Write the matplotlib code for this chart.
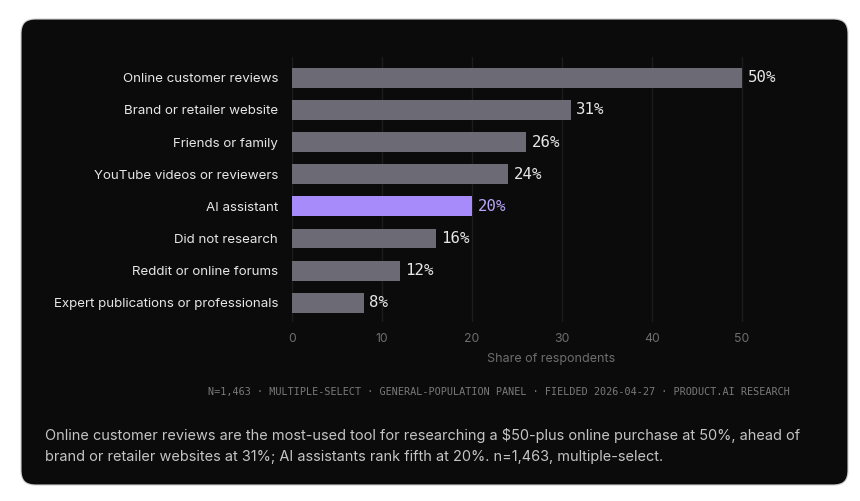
import matplotlib.pyplot as plt
from matplotlib.patches import FancyBboxPatch

# --- Data ---
categories = [
    "Online customer reviews",
    "Brand or retailer website",
    "Friends or family",
    "YouTube videos or reviewers",
    "AI assistant",
    "Did not research",
    "Reddit or online forums",
    "Expert publications or professionals",
]
shares = [50, 31, 26, 24, 20, 16, 12, 8]
highlight = "AI assistant"
x_ticks = [0, 10, 20, 30, 40, 50]

footnote = "N=1,463 · MULTIPLE-SELECT · GENERAL-POPULATION PANEL · FIELDED 2026-04-27 · PRODUCT.AI RESEARCH"
caption = ("Online customer reviews are the most-used tool for researching a $50-plus online purchase at 50%, ahead of\n"
           "brand or retailer websites at 31%; AI assistants rank fifth at 20%. n=1,463, multiple-select.")

# --- Colours ---
CARD = "#0b0b0b"
BAR = "#6c6b75"
HL = "#a78bfa"
HL_TEXT = "#b8a4f8"
LABEL = "#e6e6e6"
MUTED = "#6e6e6e"
GRID = "#1c1c1c"

W, H = 860, 501
fig = plt.figure(figsize=(W / 100, H / 100), dpi=100)
fig.patch.set_facecolor("white")

# dark rounded card (pixel coords), kept behind the axes
card = FancyBboxPatch((21, 16), 827, 466, boxstyle="round,pad=0,rounding_size=14",
                      transform=None, facecolor=CARD, edgecolor="#d0d0d0", linewidth=0.8,
                      zorder=-10)
fig.patches.append(card)

# axes placed in pixel terms: x from 292 to ~810, y from 57 to 322 (top-down)
XMAX = 57.5
ax = fig.add_axes([292 / W, (H - 322) / H, (XMAX * 9) / W, (322 - 57) / H])
ax.set_facecolor("none")
ax.set_zorder(5)

ypos = list(range(len(categories)))
colors = [HL if c == highlight else BAR for c in categories]
bars = ax.barh(ypos, shares, height=0.62, color=colors, zorder=3)

ax.set_xlim(0, XMAX)
ax.set_ylim(len(categories) - 0.4, -0.65)

for y, v, c in zip(ypos, shares, categories):
    ax.text(v + 0.6, y, f"{v}%", va="center", ha="left", fontsize=11.3,
            family="DejaVu Sans Mono", color=HL_TEXT if c == highlight else LABEL, zorder=4)

ax.set_yticks(ypos)
ax.set_yticklabels(categories, fontsize=9.6, color=LABEL, family="Inter")
ax.tick_params(axis="y", length=0, pad=10)

ax.set_xticks(x_ticks)
ax.set_xticklabels([str(t) for t in x_ticks], fontsize=8.8, color=MUTED, family="Inter")
ax.tick_params(axis="x", length=0, pad=8)
ax.set_xlabel("Share of respondents", fontsize=9.0, color=MUTED, family="Inter", labelpad=6)

ax.grid(axis="x", color=GRID, linewidth=1, zorder=0)
for s in ax.spines.values():
    s.set_visible(False)

fig.text(790 / W, 1 - 392 / H, footnote, ha="right", va="center", fontsize=7.3,
         family="DejaVu Sans Mono", color="#7a7a7a")
fig.text(45 / W, 1 - 446 / H, caption, ha="left", va="center", fontsize=10.45,
         family="Inter", color="#c4c4c4", linespacing=1.55)

fig.savefig("out.png", dpi=100, facecolor=fig.get_facecolor())
